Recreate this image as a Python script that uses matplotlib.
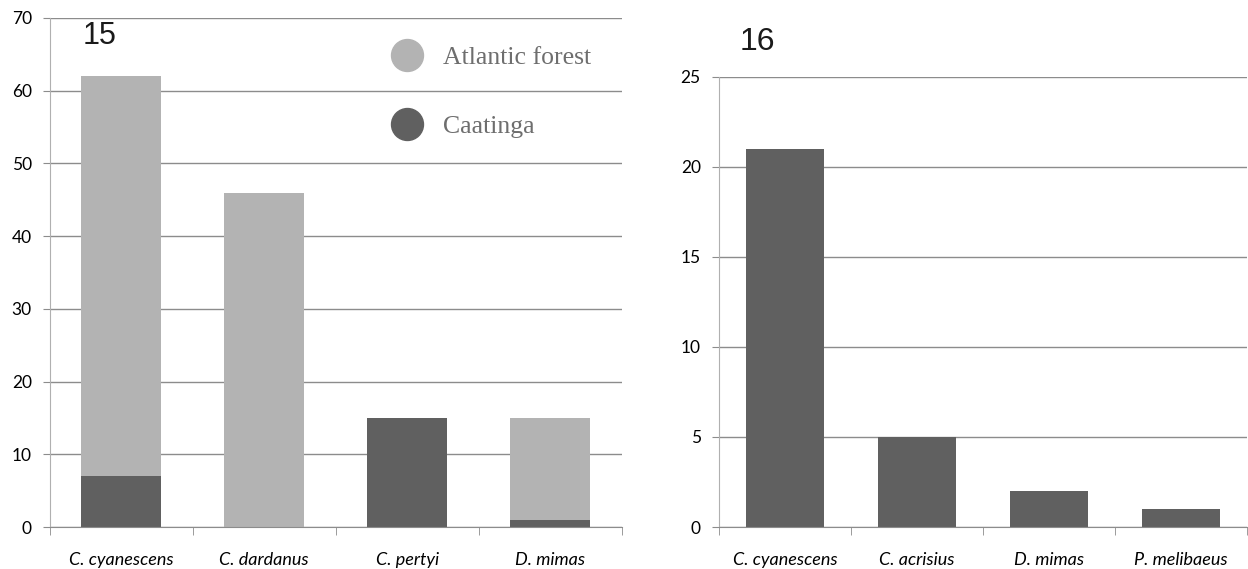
import numpy as np
import matplotlib.pyplot as plt
from matplotlib.lines import Line2D

# Panel 15: records per species and biome
species_15 = ['C. cyanescens', 'C. dardanus', 'C. pertyi', 'D. mimas']
caatinga_15 = [7, 0, 15, 1]
atlantic_15 = [55, 46, 0, 14]

# Panel 16
species_16 = ['C. cyanescens', 'C. acrisius', 'D. mimas', 'P. melibaeus']
counts_16 = [21, 5, 2, 1]

LIGHT = '#b3b3b3'
DARK = '#606060'
GRID = '#8c8c8c'

plt.rcParams['font.family'] = ['Lato', 'DejaVu Sans']

fig = plt.figure(figsize=(12.48, 5.69), dpi=100)
ax1 = fig.add_axes([0.040, 0.0738, 0.458, 0.8946])
ax2 = fig.add_axes([0.576, 0.0738, 0.423, 0.791])


def style_axis(ax, n, ymax, step):
    ax.set_xlim(-0.5, n - 0.5)
    ax.set_ylim(0, ymax)
    ax.set_yticks(np.arange(0, ymax + 1, step))
    ax.yaxis.grid(True, color=GRID, linewidth=1)
    ax.set_axisbelow(True)
    for s in ['top', 'right']:
        ax.spines[s].set_visible(False)
    ax.spines['left'].set_color('#b0b0b0')
    ax.spines['bottom'].set_color(GRID)
    ax.tick_params(axis='y', length=5, color=GRID, labelsize=12.5, pad=8)
    ax.tick_params(axis='x', which='major', length=0, pad=18)
    ax.set_xticks(np.arange(n + 1) - 0.5, minor=True)
    ax.tick_params(axis='x', which='minor', length=6, color=GRID)


x1 = np.arange(len(species_15))
ax1.bar(x1, caatinga_15, width=0.56, color=DARK)
ax1.bar(x1, atlantic_15, width=0.56, bottom=caatinga_15, color=LIGHT)
style_axis(ax1, len(species_15), 70, 10)
ax1.set_xticks(x1)
ax1.set_xticklabels(species_15, style='italic', fontsize=13)
fig.text(0.066, 0.937, '15', fontsize=22, family='Liberation Sans',
         va='center', color='#1a1a1a')

handles = [Line2D([], [], marker='o', linestyle='', markersize=23,
                  markerfacecolor=LIGHT, markeredgecolor=LIGHT),
           Line2D([], [], marker='o', linestyle='', markersize=23,
                  markerfacecolor=DARK, markeredgecolor=DARK)]
leg = ax1.legend(handles, ['Atlantic forest', 'Caatinga'], loc='upper left',
                 bbox_to_anchor=(0.5595, 0.990), frameon=False, handletextpad=0.86,
                 labelspacing=1.78, handlelength=1.1,
                 prop={'family': 'Liberation Serif', 'size': 18.5})
for t in leg.get_texts():
    t.set_color('#6e6e6e')

x2 = np.arange(len(species_16))
ax2.bar(x2, counts_16, width=0.59, color=DARK)
style_axis(ax2, len(species_16), 25, 5)
ax2.set_xticks(x2)
ax2.set_xticklabels(species_16, style='italic', fontsize=13)
fig.text(0.593, 0.926, '16', fontsize=23, family='Liberation Sans',
         va='center', color='#1a1a1a')

fig.savefig('out.png', dpi=100)
